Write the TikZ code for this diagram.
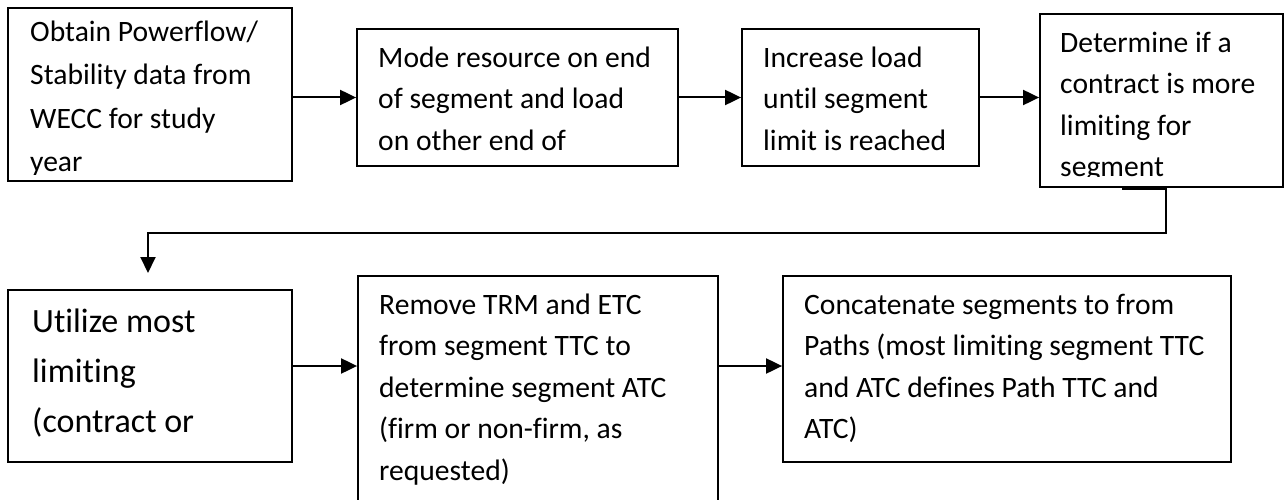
\documentclass[tikz,border=0pt]{standalone}
\usepackage{fontspec}
\setmainfont{Carlito}[Ligatures={NoCommon}]
\usetikzlibrary{arrows.meta}
\tikzset{
  box/.style={draw, line width=1.8pt, rectangle, inner sep=0pt},
  txt/.style={anchor=north west, inner sep=0pt, align=left, font=\fontsize{29.6}{41.5}\selectfont},
  txtone/.style={anchor=north west, inner sep=0pt, align=left, font=\fontsize{29.6}{43.5}\selectfont},
  bigtxt/.style={anchor=north west, inner sep=0pt, align=left, font=\fontsize{34}{50}\selectfont},
  arr/.style={line width=2pt, -{Triangle[length=16pt,width=15pt]}},
}
\newcommand{\fr}{\rule{0pt}{30pt}}
\newcommand{\frbig}{\rule{0pt}{36pt}}
\begin{document}
\begin{tikzpicture}[x=1pt,y=-1pt]
\clip (0,0) rectangle (1284,500);
\fill[white] (0,0) rectangle (1284,500);

% boxes
\node[box, minimum width=284pt, minimum height=173pt] (b1) at (150,94.5) {};
\node[box, minimum width=321pt, minimum height=137pt] (b2) at (517.5,97.5) {};
\node[box, minimum width=237pt, minimum height=137pt] (b3) at (860.5,97.5) {};
\node[box, minimum width=243pt, minimum height=173pt] (b4) at (1161.5,100.5) {};
\node[box, minimum width=284pt, minimum height=172pt] (b5) at (150,376) {};
\node[box, minimum width=360pt, minimum height=254pt] (b6) at (538,403) {};
\node[box, minimum width=448pt, minimum height=186pt] (b7) at (1007,369) {};

% texts
\begin{scope}
  \clip (9,9) rectangle (291,174);
  \node[txtone] (t1) at (30,11) {\fr Obtain Powerflow/\\Stability data from\\WECC for study\\year};
\end{scope}
\begin{scope}
  \clip (358,30) rectangle (677,162);
  \node[txt] (t2) at (378,37) {\fr Mode resource on end\\of segment and load\\on other end of};
\end{scope}
\begin{scope}
  \clip (743,30) rectangle (978,162);
  \node[txt] (t3) at (763,37) {\fr Increase load\\until segment\\limit is reached};
\end{scope}
\begin{scope}
  \clip (1041,15) rectangle (1282,176);
  \node[txt] (t4) at (1060,22) {\fr Determine if a\\contract is more\\limiting for\\segment};
\end{scope}
\begin{scope}
  \clip (9,291) rectangle (291,455);
  \node[bigtxt] (t5) at (32,296) {\frbig Utilize most\\limiting\\(contract or};
\end{scope}
\node[txt] (t6) at (379,284) {\fr Remove TRM and ETC\\from segment TTC to\\determine segment ATC\\(firm or non-firm, as\\requested)};
\node[txt] (t7) at (804,284) {\fr Concatenate segments to from\\Paths (most limiting segment TTC\\and ATC defines Path TTC and\\ATC)};

% connectors
\draw[arr] (b1.east |- b2.west) -- (b2.west);
\draw[arr] (b2.east) -- (b3.west);
\draw[arr] (b3.east) -- (b4.west |- b3.east);

\coordinate (c4) at (1122,189);
\coordinate (k1) at (1166,233);
\coordinate (k2) at (148,233);
\coordinate (e5) at (148,273);
\draw[arr] (c4) -- (c4 -| k1) -- (k1) -- (k2) -- (e5);

\coordinate (m) at (0,366);
\draw[arr] (b5.east |- m) -- (b6.west |- m);
\draw[arr] (b6.east |- m) -- (b7.west |- m);
\end{tikzpicture}
\end{document}
